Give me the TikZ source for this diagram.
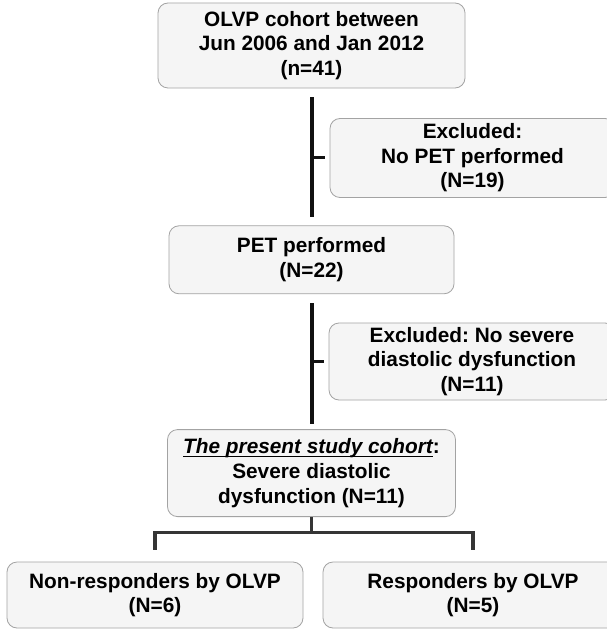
\documentclass[tikz,border=0pt]{standalone}
\usepackage{fontspec}
\setmainfont{Liberation Sans}
\usepackage{xcolor}
\definecolor{cLine}{HTML}{111111}
\definecolor{cEdge}{HTML}{A3A3A3}
\definecolor{cFill}{HTML}{F5F5F5}
\usetikzlibrary{positioning,calc}
\frenchspacing
\newcommand\studyline[1]{{\setbox0\hbox{#1}\rlap{\rule[-1.6pt]{\wd0}{0.65pt}}\box0}}
\tikzset{
  flow-box/.style={draw=cEdge,fill=cFill,rounded corners=5pt,inner sep=0pt,
    align=center,font=\fontsize{10.4}{12.3}\selectfont\bfseries},
  flow-link/.style={draw=cLine,line width=2pt},
  flow-tick/.style={draw=cLine,line width=1.5pt},
  flow-split/.style={draw=cLine!85,line width=1.8pt},
}

\begin{document}
\begin{tikzpicture}[x=0.5pt,y=-0.5pt]
  \useasboundingbox[fill=white] (0,0) rectangle (606,630);
  % main column
  \node[flow-box,minimum width=153.5pt,minimum height=42.5pt] (cohort) at (311.5,45.5)
    {OLVP cohort between\\Jun 2006 and Jan 2012\\(n=41)};
  \node[flow-box,minimum width=142.5pt,minimum height=34pt,below=68.5pt of cohort] (pet)
    {PET performed\\(N=22)};
  \node[flow-box,minimum width=144pt,minimum height=43.5pt,below=67.5pt of pet] (present)
    {\studyline{\itshape The present study cohort}:\\Severe diastolic\\dysfunction (N=11)};
  % exclusions
  \node[flow-box,minimum width=142.5pt,minimum height=39.5pt] (excl1) at (472.5,158)
    {Excluded:\\No PET performed\\(N=19)};
  \node[flow-box,minimum width=143pt,minimum height=38.5pt] (excl2) at (472,361.5)
    {Excluded: No severe\\diastolic dysfunction\\(N=11)};
  % outcome groups
  \node[flow-box,minimum width=148pt,minimum height=33pt] (nonresp) at (155,595)
    {Non-responders by OLVP\\(N=6)};
  \node[flow-box,minimum width=150pt,minimum height=33pt] (resp) at (473,595)
    {Responders by OLVP\\(N=5)};

  \draw[flow-link] ([yshift=-4.5pt]cohort.south) -- ([yshift=4pt]pet.north);
  \draw[flow-link] ([yshift=-4.5pt]pet.south) -- ([yshift=2.5pt]present.north);
  \draw[flow-tick] (excl1.west -| pet.north) -- ([xshift=-2.5pt]excl1.west);
  \draw[flow-tick] (excl2.west -| pet.north) -- ([xshift=-2.5pt]excl2.west);

  \coordinate (split) at ([yshift=14.5pt]nonresp.north);
  \draw[flow-split] (present.south) -- (present.south |- split);
  \draw[flow-split] ([yshift=6pt]nonresp.north) -- (split)
    -- (split -| resp.north) -- ([yshift=6pt]resp.north);
\end{tikzpicture}
\end{document}
